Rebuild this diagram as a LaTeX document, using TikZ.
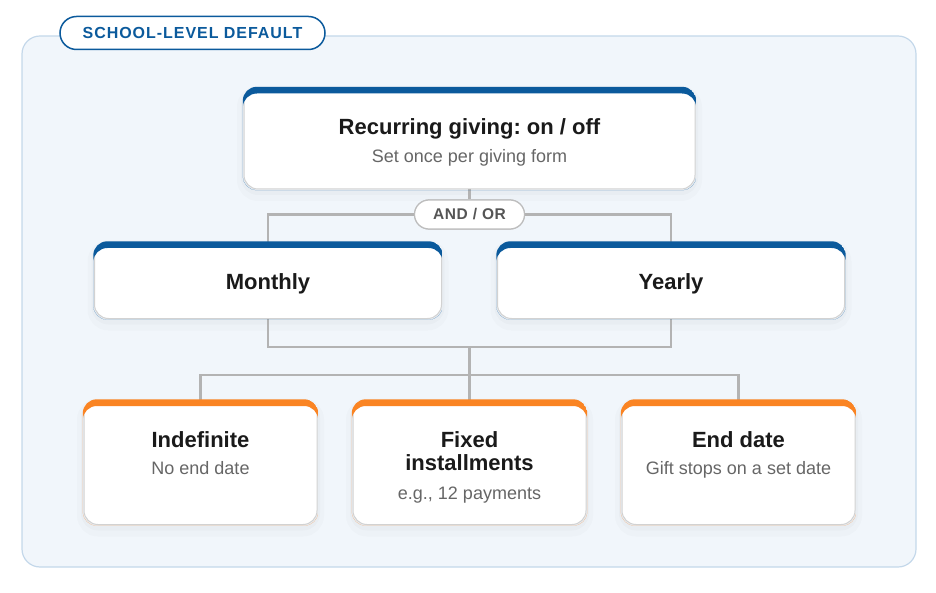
\documentclass[tikz,border=0pt]{standalone}
\usepackage{fontspec}
\setmainfont{Liberation Sans}
\newfontfamily\spacedfont[LetterSpace=6]{Liberation Sans}
\newfontfamily\andorfont[LetterSpace=4]{Liberation Sans}
\usetikzlibrary{calc}
\frenchspacing
\definecolor{navy}{HTML}{0B5A9C}
\definecolor{orng}{HTML}{FA8423}
\definecolor{panelfill}{HTML}{F1F6FB}
\definecolor{panelline}{HTML}{C4D8EA}
\definecolor{cardline}{HTML}{D2D2D2}
\definecolor{wire}{HTML}{B3B3B3}
\definecolor{ink}{HTML}{1A1A1A}
\definecolor{subink}{HTML}{666666}
\definecolor{pilltext}{HTML}{555555}
\definecolor{pillline}{HTML}{BDBDBD}
\newcommand\cardband[2]{%
  \begin{scope}
    \clip[rounded corners=14pt] ([xshift=-0.7pt,yshift=0.7pt]#1.north west) rectangle ([xshift=0.7pt,yshift=-0.7pt]#1.south east);
    \fill[#2, even odd rule, rounded corners=14pt]
      ([xshift=-0.7pt,yshift=0.7pt]#1.north west) rectangle ([xshift=0.7pt,yshift=-0.7pt]#1.south east)
      ([xshift=-0.7pt,yshift=-6pt]#1.north west) rectangle ([xshift=0.7pt,yshift=-6pt]#1.south east);
  \end{scope}}
\tikzset{
  panel/.style={rectangle, rounded corners=18pt, draw=panelline, line width=1.2pt, fill=panelfill, inner sep=0pt},
  card/.style={rectangle, rounded corners=14pt, draw=cardline, line width=1pt, fill=white, inner sep=0pt,
    preaction={draw=black, draw opacity=0.015, line width=14pt, transform canvas={yshift=-5pt}},
    preaction={draw=black, draw opacity=0.02, line width=6pt, transform canvas={yshift=-3pt}}},
  wireline/.style={draw=wire, line width=2.5pt},
  titletext/.style={anchor=base, text=ink, font=\fontsize{22}{26}\selectfont\bfseries},
  subtext/.style={anchor=base, text=subink, font=\fontsize{18}{22}\selectfont},
  tagpill/.style={rectangle, rounded corners=16.5pt, draw=navy, line width=1.5pt, fill=white, inner sep=0pt,
    minimum width=265pt, minimum height=33pt, text=navy, font=\spacedfont\fontsize{16}{19}\selectfont\bfseries},
  andorpill/.style={rectangle, rounded corners=14.5pt, draw=pillline, line width=1.2pt, fill=white, inner sep=0pt,
    minimum width=110pt, minimum height=29pt, text=pilltext, font=\andorfont\fontsize{15.5}{18}\selectfont\bfseries}
}
\begin{document}
\begin{tikzpicture}[x=1pt,y=-1pt]
\useasboundingbox (0,0) rectangle (936,593);
% panel
\node[panel, minimum width=894pt, minimum height=531pt] (panel) at (469,301.5) {};
\node[tagpill] (tag) at (192.5,33) {SCHOOL-LEVEL DEFAULT};

% coordinates for junctions
\coordinate (merge) at (469.5,347);
\coordinate (split) at (469.5,375);

\node[andorpill] (andor) at (469.5,214.5) {AND / OR};

% cards
\node[card, minimum width=451pt, minimum height=101pt] (top) at (469.5,138.5) {};
\node[card, minimum width=347pt, minimum height=76pt] (monthly) at (268,280.5) {};
\node[card, minimum width=347pt, minimum height=76pt] (yearly) at (671,280.5) {};
\node[card, minimum width=233pt, minimum height=124pt] (indef) at (200.5,462.5) {};
\node[card, minimum width=233pt, minimum height=124pt] (fixed) at (469.5,462.5) {};
\node[card, minimum width=233pt, minimum height=124pt] (enddate) at (738.5,462.5) {};

\draw[wireline] (top.south) -- (andor.north);
\draw[wireline] (andor.west) -| (monthly.north);
\draw[wireline] (andor.east) -| (yearly.north);
\draw[wireline] (monthly.south) |- (merge) -| (yearly.south);
\draw[wireline] (merge) -- (split);
\draw[wireline] (indef.north) |- (split) -| (enddate.north);
\draw[wireline] (split) -- (fixed.north);

\node[andorpill] at (andor) {AND / OR};

\cardband{top}{navy}
\cardband{monthly}{navy}
\cardband{yearly}{navy}
\cardband{indef}{orng}
\cardband{fixed}{orng}
\cardband{enddate}{orng}

% texts
\node[titletext] (toptitle) at (469.5,134.5) {Recurring giving: on / off};
\node[subtext] (topsub) at (469.5,163) {Set once per giving form};
\node[titletext] (mtitle) at (268,290) {Monthly};
\node[titletext] (ytitle) at (671,290) {Yearly};
\node[titletext] (ititle) at (200.5,447) {Indefinite};
\node[subtext] (isub) at (200.5,474) {No end date};
\node[titletext] (ftitle1) at (469.5,447) {Fixed};
\node[titletext] (ftitle2) at (469.5,470.5) {installments};
\node[subtext] (fsub) at (469.5,499) {e.g., 12 payments};
\node[titletext] (etitle) at (738.5,447) {End date};
\node[subtext] (esub) at (738.5,474) {Gift stops on a set date};
\end{tikzpicture}
\end{document}
